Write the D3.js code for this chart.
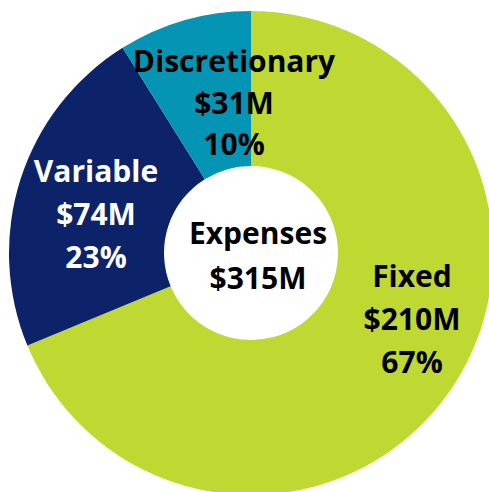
<!DOCTYPE html>
<html>
<head>
<meta charset="utf-8">
<script src="https://cdn.jsdelivr.net/npm/d3@7.9.0/dist/d3.min.js"></script>
<style>
  html, body { margin: 0; padding: 0; background: #fff; }
  svg { display: block; }
  text { font-family: 'Open Sans', 'Noto Sans', sans-serif; font-weight: 700; }
</style>
</head>
<body>
<svg id="chart" width="489" height="492"></svg>
<script>
// slice data (share of the ring, clockwise from 12 o'clock)
const categories = ['Fixed', 'Variable', 'Discretionary'];
const shares = [68.75, 22.35, 8.9];
const amounts = ['$210M', '$74M', '$31M'];
const percents = ['67%', '23%', '10%'];
const centerLines = ['Expenses', '$315M'];

const colors = ['#bfd932', '#0c2369', '#0595b4'];
const textColors = ['#000', '#fff', '#000'];

// label anchors, relative to the ring centre (first baseline)
const labelAnchors = [
  { dx: 161, dy: 34, step: 43 },
  { dx: -155, dy: -71, step: 43 },
  { dx: -17, dy: -181, step: 41.5 },
];

const cx = 251;
const cy = 253;
const outerR = 242;
const innerR = 87;
const fontSize = 30;

const svg = d3.select('#chart');
const g = svg.append('g').attr('transform', `translate(${cx},${cy})`);

const pie = d3.pie().sort(null).value((d) => d.share);
const arc = d3.arc().innerRadius(innerR).outerRadius(outerR);

const rows = categories.map((c, i) => ({
  name: c,
  share: shares[i],
  lines: [c, amounts[i], percents[i]],
  color: colors[i],
  textColor: textColors[i],
  anchor: labelAnchors[i],
}));

g.selectAll('path')
  .data(pie(rows))
  .join('path')
  .attr('d', arc)
  .attr('fill', (d) => d.data.color);

function drawLabel(lines, x, y, step, fill) {
  const t = g.append('g');
  lines.forEach((line, i) => {
    t.append('text')
      .attr('x', x)
      .attr('y', y + i * step)
      .attr('text-anchor', 'middle')
      .attr('font-size', fontSize)
      .attr('fill', fill)
      .text(line);
  });
}

rows.forEach((d) => {
  drawLabel(d.lines, d.anchor.dx, d.anchor.dy, d.anchor.step, d.textColor);
});

drawLabel(centerLines, 7, -9, 45, '#000');
</script>
</body>
</html>
